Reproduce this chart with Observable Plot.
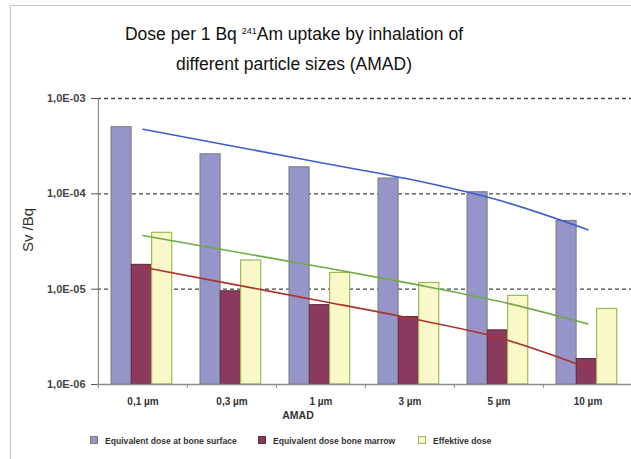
<!DOCTYPE html>
<html><head><meta charset="utf-8">
<script src="https://cdn.jsdelivr.net/npm/d3@7"></script>
<script src="https://cdn.jsdelivr.net/npm/@observablehq/plot@0.6"></script>
<style>
html,body{margin:0;padding:0;background:#fff;overflow:hidden}
#wrap{position:relative;width:631px;height:459px;overflow:hidden;font-family:"Liberation Sans",Arial,sans-serif;background:#fff}
#frame{position:absolute;left:10px;top:5px;width:660px;height:480px;border-left:1px solid #c4c4c4;border-top:1px solid #c4c4c4}
#chart{position:absolute;left:0;top:0}
#title{position:absolute;left:0;top:21px;width:588px;text-align:center;font-size:17.5px;line-height:27px;color:#111}
#title .sup{font-size:9px;position:relative;top:-6px}
#ylab{position:absolute;left:27px;top:230px;transform:translate(-50%,-50%) rotate(-90deg);font-size:15px;color:#333;white-space:nowrap}
#xlab{position:absolute;left:298px;top:415px;transform:translate(-50%,-50%);font-size:10.5px;font-weight:bold;color:#333;white-space:nowrap}
.leg{position:absolute;top:435px;font-size:8.6px;font-weight:bold;color:#333;white-space:nowrap;line-height:12px}
.leg i{display:inline-block;width:6px;height:6px;margin-right:7px;vertical-align:0px;box-sizing:content-box}
</style></head>
<body>
<div id="wrap">
  <div id="frame"></div>
  <div id="chart"></div>
  <div id="title">Dose per 1 Bq <span class="sup">241</span>Am uptake by inhalation of<br>different particle sizes (AMAD)</div>
  <div id="ylab">Sv /Bq</div>
  <div id="xlab">AMAD</div>
  <div id="legend"></div>
</div>
<script>
const categories = ["0,1 µm", "0,3 µm", "1 µm", "3 µm", "5 µm", "10 µm"];
const seriesNames = ["Equivalent dose at bone surface", "Equivalent dose bone marrow", "Effektive dose"];
const boneSurface = [5.0e-4, 2.6e-4, 1.9e-4, 1.45e-4, 1.04e-4, 5.2e-5];
const boneMarrow = [1.8e-5, 9.5e-6, 6.8e-6, 5.1e-6, 3.7e-6, 1.85e-6];
const effectiveDose = [3.9e-5, 2.0e-5, 1.48e-5, 1.16e-5, 8.5e-6, 6.2e-6];
const trendSurface = [4.76e-4, 3.17e-4, 2.12e-4, 1.42e-4, 8.55e-5, 4.19e-5];
const trendMarrow = [1.70e-5, 1.13e-5, 7.52e-6, 4.95e-6, 3.09e-6, 1.49e-6];
const trendEffective = [3.65e-5, 2.50e-5, 1.71e-5, 1.15e-5, 7.46e-6, 4.32e-6];
const yTicks = [1e-3, 1e-4, 1e-5, 1e-6];
const yTickLabels = ["1,0E-03", "1,0E-04", "1,0E-05", "1,0E-06"];
const gridValues = [1e-3, 1e-4, 1e-5];

const BASE = 1e-6;
const rows = categories.map((c, i) => ({
  cat: c, surface: boneSurface[i], marrow: boneMarrow[i], effective: effectiveDose[i],
  tS: trendSurface[i], tM: trendMarrow[i], tE: trendEffective[i]
}));

const fills = ["#9595c9", "#8b3a5e", "#faf7c8"];
const strokes = ["#7d7d7d", "#5e2840", "#9bbb59"];

const x0 = 97, x1 = 632, bw = (x1 - x0) / categories.length, barW = 20.3, pad0 = 13;
const inset = k => ({insetLeft: pad0 + k * barW, insetRight: bw - pad0 - (k + 1) * barW});

const chart = Plot.plot({
  width: 631, height: 459,
  marginTop: 98, marginBottom: 75, marginLeft: 97, marginRight: 0,
  style: {fontFamily: "Liberation Sans, Arial, sans-serif", background: "transparent", overflow: "hidden"},
  x: {domain: categories, range: [x0, x1], padding: 0, axis: null},
  y: {type: "log", domain: [BASE, 1e-3], axis: null},
  marks: [
    Plot.ruleY(gridValues, {stroke: "#444", strokeDasharray: "4,3", strokeWidth: 1.3}),
    Plot.barY(rows, {x: "cat", y1: () => BASE, y2: "surface", fill: fills[0], stroke: strokes[0], strokeWidth: 1, ...inset(0)}),
    Plot.barY(rows, {x: "cat", y1: () => BASE, y2: "marrow", fill: fills[1], stroke: strokes[1], strokeWidth: 1, ...inset(1)}),
    Plot.barY(rows, {x: "cat", y1: () => BASE, y2: "effective", fill: fills[2], stroke: strokes[2], strokeWidth: 1.2, ...inset(2)}),
    Plot.ruleX([categories[0]], {x: d => d, dx: -bw / 2, stroke: "#8c8c8c", strokeWidth: 1.2}),
    Plot.ruleY([BASE], {stroke: "#8c8c8c", strokeWidth: 1.6}),
    Plot.axisX({tickSize: 4, tickFormat: () => "", dx: -bw / 2, stroke: "#8c8c8c", label: null}),
    Plot.axisX({tickSize: 0, tickPadding: 13, fontSize: 10, fontWeight: "bold", color: "#333", label: null}),
    Plot.axisY({ticks: yTicks, tickFormat: d => yTickLabels[yTicks.indexOf(d)], tickSize: 6, tickPadding: 6, fontSize: 11, fontWeight: "bold", color: "#444", stroke: "#555", label: null}),
    Plot.line(rows, {x: "cat", y: "tS", stroke: "#3d5ccb", strokeWidth: 1.6, curve: "monotone-x"}),
    Plot.line(rows, {x: "cat", y: "tE", stroke: "#6faa45", strokeWidth: 1.6, curve: "monotone-x"}),
    Plot.line(rows, {x: "cat", y: "tM", stroke: "#a8352b", strokeWidth: 1.6, curve: "monotone-x"})
  ]
});
document.getElementById("chart").appendChild(chart);

const legLeft = [90, 258, 418];
const legend = document.getElementById("legend");
seriesNames.forEach((name, k) => {
  const d = document.createElement("div");
  d.className = "leg";
  d.style.left = legLeft[k] + "px";
  const sw = document.createElement("i");
  sw.style.background = fills[k];
  sw.style.border = "1px solid " + strokes[k];
  d.appendChild(sw);
  d.appendChild(document.createTextNode(name));
  legend.appendChild(d);
});
</script>
</body></html>
